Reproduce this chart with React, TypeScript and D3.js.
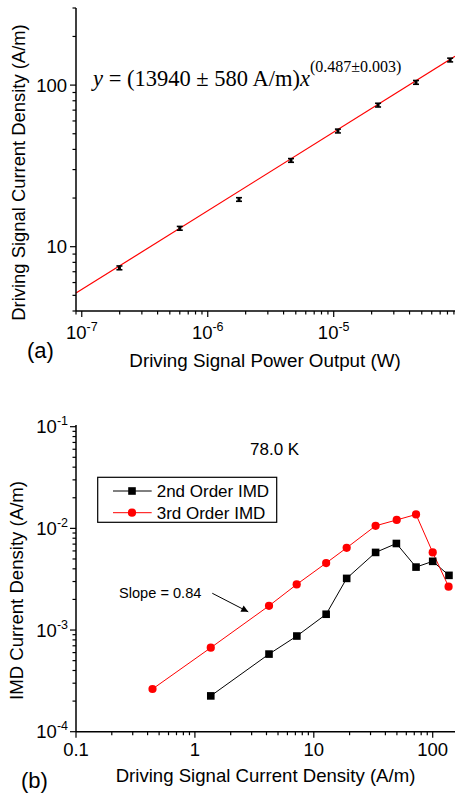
import React from "react";
import * as d3 from "d3";

// ---- panel (a): driving signal current density vs power output
const powerW = [1.99e-7, 6.0e-7, 1.77e-6, 4.58e-6, 1.08e-5, 2.25e-5, 4.5e-5, 8.4e-5];
const currentA = [7.4, 13.0, 19.6, 34.2, 52, 75.2, 104, 143];
const currentErr = [0.2, 0.35, 0.5, 0.9, 1.4, 2.0, 2.8, 3.8];
// fit y = A x^b, drawn across the x domain
const fitAmp = 13940;
const fitExp = 0.487;
const xDomainA = [9.0e-8, 9.18e-5];
const yDomainA = [4, 300];

// ---- panel (b): IMD current density vs driving current density
const imd2X = [1.36, 4.2, 7.2, 12.7, 18.9, 33.1, 49.5, 72.4, 100, 137];
const imd2Y = [2.25e-4, 5.8e-4, 8.73e-4, 1.43e-3, 3.22e-3, 5.8e-3, 7.1e-3, 4.16e-3, 4.74e-3, 3.45e-3];
const imd3X = [0.44, 1.36, 4.2, 7.18, 12.7, 18.9, 33.1, 49.8, 72.4, 100, 136];
const imd3Y = [2.63e-4, 6.7e-4, 1.73e-3, 2.81e-3, 4.56e-3, 6.44e-3, 1.06e-2, 1.21e-2, 1.37e-2, 5.8e-3, 2.67e-3];
const xDomainB = [0.1, 154];
const yDomainB = [1e-4, 1e-1];
const arrowFrom = [1.4, 2.3e-3];
const arrowTo = [2.81, 1.51e-3];

const FONT = "Liberation Sans, Arial, sans-serif";
const SERIF = "Liberation Serif, Times New Roman, serif";
const TICK_FS = 18.5;

const isDecade = (v: number) => Math.abs(Math.log10(v) - Math.round(Math.log10(v))) < 1e-6;

function PowLabel({ v, x, y, anchor }: any) {
  const e = Math.round(Math.log10(v));
  return (
    <text x={x} y={y} textAnchor={anchor} fontFamily={FONT} fontSize={TICK_FS}>
      10<tspan dy={-8} fontSize={12.5}>{e}</tspan>
    </text>
  );
}

function XAxis({ scale, y, x0, x1, fmt }: any) {
  const ticks = scale.ticks();
  return (
    <g>
      <line x1={x0} x2={x1} y1={y} y2={y} stroke="#000" strokeWidth={1.5} />
      {ticks.map((t: number, i: number) => {
        const px = scale(t);
        if (px < x0 - 0.5 || px > x1) return null;
        const major = isDecade(t);
        return (
          <g key={i}>
            <line x1={px} x2={px} y1={y} y2={y + (major ? 6 : 3.5)} stroke="#000" strokeWidth={1.2} />
            {major && fmt(t, px, y + 28)}
          </g>
        );
      })}
    </g>
  );
}

function YAxis({ scale, x, y0, y1, fmt }: any) {
  const ticks = scale.ticks();
  return (
    <g>
      <line x1={x} x2={x} y1={y0} y2={y1} stroke="#000" strokeWidth={1.5} />
      {ticks.map((t: number, i: number) => {
        const py = scale(t);
        if (py > y0 + 0.5 || py < y1) return null;
        const major = isDecade(t);
        return (
          <g key={i}>
            <line x1={x} x2={x - (major ? 6 : 3.5)} y1={py} y2={py} stroke="#000" strokeWidth={1.2} />
            {major && fmt(t, x - 8, py + 6.5)}
          </g>
        );
      })}
    </g>
  );
}

export default function App() {
  // panel (a) scales
  const xa = d3.scaleLog().domain(xDomainA).range([76, 455]);
  const ya = d3.scaleLog().domain(yDomainA).range([311, 8]);
  const fitLine = d3
    .line<number>()
    .x((d) => xa(d))
    .y((d) => ya(fitAmp * Math.pow(d, fitExp)));

  // panel (b) scales
  const xb = d3.scaleLog().domain(xDomainB).range([76, 455]);
  const yb = d3.scaleLog().domain(yDomainB).range([731.7, 426.7]);
  const lineB = d3
    .line<[number, number]>()
    .x((d) => xb(d[0]))
    .y((d) => yb(d[1]));
  const pts2 = imd2X.map((x, i) => [x, imd2Y[i]] as [number, number]);
  const pts3 = imd3X.map((x, i) => [x, imd3Y[i]] as [number, number]);

  const ax0 = xb(arrowFrom[0]);
  const ay0 = yb(arrowFrom[1]);
  const ax1 = xb(arrowTo[0]);
  const ay1 = yb(arrowTo[1]);

  return (
    <svg
      width={455}
      height={795}
      style={{ position: "absolute", left: 0, top: 0, background: "#fff" }}
    >
      <defs>
        <marker id="arr" viewBox="0 0 10 10" refX={10} refY={5} markerWidth={9} markerHeight={7} orient="auto" markerUnits="userSpaceOnUse">
          <path d="M0,0 L10,5 L0,10 z" fill="#000" />
        </marker>
      </defs>

      {/* ---------- (a) ---------- */}
      <path d={fitLine(xDomainA) || ""} fill="none" stroke="#ff0000" strokeWidth={1.2} />
      {powerW.map((p, i) => {
        const cx = xa(p);
        const top = ya(currentA[i] + currentErr[i]);
        const bot = ya(currentA[i] - currentErr[i]);
        return (
          <g key={i} stroke="#000" strokeWidth={1.6}>
            <line x1={cx} x2={cx} y1={top} y2={bot} />
            <line x1={cx - 3} x2={cx + 3} y1={top} y2={top} />
            <line x1={cx - 3} x2={cx + 3} y1={bot} y2={bot} />
            <rect x={cx - 1.5} y={ya(currentA[i]) - 1.5} width={3} height={3} fill="#000" stroke="none" />
          </g>
        );
      })}
      <XAxis
        scale={xa}
        y={311}
        x0={76}
        x1={455}
        fmt={(t: number, px: number, py: number) => <PowLabel v={t} x={px} y={py} anchor="middle" />}
      />
      <YAxis
        scale={ya}
        x={76}
        y0={311}
        y1={8}
        fmt={(t: number, px: number, py: number) => (
          <text x={px - 1} y={py} textAnchor="end" fontFamily={FONT} fontSize={TICK_FS}>
            {t}
          </text>
        )}
      />
      <text x={93} y={86} fontFamily={SERIF} fontSize={22.5}>
        <tspan fontStyle="italic">y</tspan> = (13940 ± 580 A/m)<tspan fontStyle="italic">x</tspan>
        <tspan dy={-14} fontSize={16}>(0.487±0.003)</tspan>
      </text>
      <text x={265} y={367} textAnchor="middle" fontFamily={FONT} fontSize={18.8}>
        Driving Signal Power Output (W)
      </text>
      <text
        transform="translate(25,172.5) rotate(-90)"
        textAnchor="middle"
        fontFamily={FONT}
        fontSize={18.4}
      >
        Driving Signal Current Density (A/m)
      </text>
      <text x={27} y={358} fontFamily={FONT} fontSize={22}>
        (a)
      </text>

      {/* ---------- (b) ---------- */}
      <path d={lineB(pts2) || ""} fill="none" stroke="#000" strokeWidth={1} />
      <path d={lineB(pts3) || ""} fill="none" stroke="#ff0000" strokeWidth={1} />
      {pts2.map((d, i) => (
        <rect key={i} x={xb(d[0]) - 3.8} y={yb(d[1]) - 3.8} width={7.6} height={7.6} fill="#000" />
      ))}
      {pts3.map((d, i) => (
        <circle key={i} cx={xb(d[0])} cy={yb(d[1])} r={4.1} fill="#ff0000" />
      ))}
      <XAxis
        scale={xb}
        y={731.7}
        x0={76}
        x1={455}
        fmt={(t: number, px: number, py: number) => (
          <text x={px} y={py - 4} textAnchor="middle" fontFamily={FONT} fontSize={TICK_FS}>
            {t >= 1 ? d3.format("d")(t) : "0.1"}
          </text>
        )}
      />
      <YAxis
        scale={yb}
        x={76}
        y0={731.7}
        y1={425}
        fmt={(t: number, px: number, py: number) => <PowLabel v={t} x={px} y={py} anchor="end" />}
      />
      <text x={250} y={455} fontFamily={FONT} fontSize={17}>
        78.0 K
      </text>
      <g>
        <rect x={97.7} y={477.3} width={179} height={45} fill="#fff" stroke="#000" strokeWidth={1.2} />
        <line x1={113} x2={151.7} y1={491} y2={491} stroke="#000" strokeWidth={1} />
        <rect x={132 - 3.8} y={491 - 3.8} width={7.6} height={7.6} fill="#000" />
        <text x={156.7} y={497} fontFamily={FONT} fontSize={17}>
          2nd Order IMD
        </text>
        <line x1={113} x2={151.7} y1={512.7} y2={512.7} stroke="#ff0000" strokeWidth={1} />
        <circle cx={132} cy={512.7} r={4.1} fill="#ff0000" />
        <text x={156.7} y={518.7} fontFamily={FONT} fontSize={17}>
          3rd Order IMD
        </text>
      </g>
      <text x={119} y={598} fontFamily={FONT} fontSize={14.6}>
        Slope = 0.84
      </text>
      <line x1={ax0} y1={ay0} x2={ax1} y2={ay1} stroke="#000" strokeWidth={1} markerEnd="url(#arr)" />
      <text x={265.5} y={782} textAnchor="middle" fontFamily={FONT} fontSize={18.6}>
        Driving Signal Current Density (A/m)
      </text>
      <text
        transform="translate(23,590.5) rotate(-90)"
        textAnchor="middle"
        fontFamily={FONT}
        fontSize={18.6}
      >
        IMD Current Density (A/m)
      </text>
      <text x={21} y={788} fontFamily={FONT} fontSize={22}>
        (b)
      </text>
    </svg>
  );
}
